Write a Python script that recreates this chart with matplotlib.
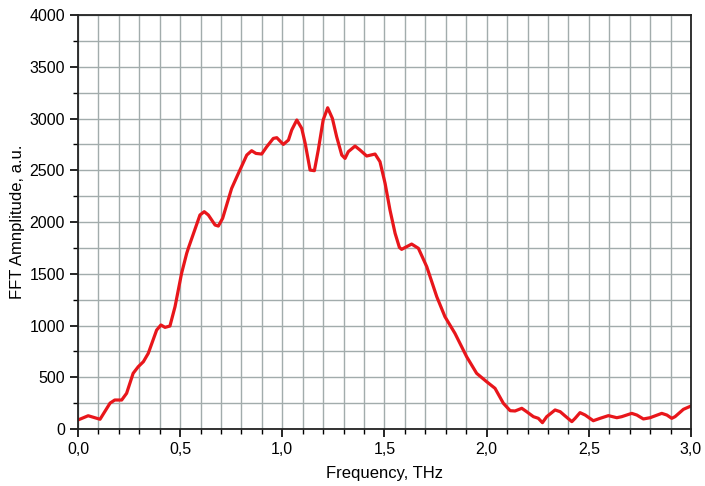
#plot of the FFT amplitude spectrum

import matplotlib
matplotlib.use("Agg")
import matplotlib.pyplot as plt
from matplotlib.ticker import MultipleLocator, FuncFormatter

#frequency (THz) and amplitude (a.u.)
freq = [0.0, 0.05, 0.108, 0.157, 0.18, 0.214, 0.238, 0.27, 0.295, 0.32, 0.344,
        0.385, 0.406, 0.426, 0.45, 0.475, 0.507, 0.532, 0.54, 0.597, 0.618, 0.638,
        0.671, 0.687, 0.708, 0.752, 0.785, 0.826, 0.85, 0.871, 0.899, 0.924, 0.956,
        0.973, 1.005, 1.03, 1.046, 1.071, 1.095, 1.112, 1.136, 1.157, 1.176, 1.2,
        1.222, 1.245, 1.266, 1.291, 1.307, 1.323, 1.356, 1.38, 1.413, 1.454, 1.478,
        1.503, 1.527, 1.552, 1.573, 1.584, 1.633, 1.666, 1.707, 1.756, 1.796, 1.845,
        1.902, 1.951, 2.0, 2.041, 2.082, 2.115, 2.139, 2.172, 2.196, 2.229, 2.253,
        2.273, 2.294, 2.335, 2.36, 2.384, 2.417, 2.433, 2.457, 2.482, 2.522, 2.555,
        2.596, 2.637, 2.661, 2.71, 2.735, 2.767, 2.8, 2.857, 2.882, 2.906, 2.922,
        2.963, 3.0]
amp = [87, 128, 94, 250, 280, 280, 345, 538, 602, 650, 731,
       956, 1005, 982, 995, 1182, 1504, 1697, 1746, 2068, 2100, 2068,
       1971, 1961, 2036, 2325, 2470, 2647, 2689, 2663, 2657, 2728, 2808,
       2815, 2750, 2792, 2889, 2986, 2905, 2760, 2502, 2496, 2696, 2986,
       3104, 3002, 2824, 2647, 2615, 2680, 2734, 2696, 2638, 2657, 2583,
       2374, 2116, 1891, 1755, 1736, 1787, 1746, 1568, 1278, 1085, 924,
       699, 538, 457, 393, 248, 177, 174, 200, 167, 119, 103,
       61, 119, 184, 167, 126, 71, 103, 158, 135, 80, 103,
       129, 109, 119, 151, 135, 97, 109, 151, 135, 103, 119,
       190, 222]

plt.rcParams["font.family"] = ["Liberation Sans", "DejaVu Sans"]

fig = plt.figure(figsize=(7.05, 4.86), dpi=100)
ax = fig.add_axes([0.1106, 0.1173, 0.8695, 0.8517])

ax.plot(freq, amp, color="#e8161b", linewidth=2.3, solid_joinstyle="round")

ax.set_xlim(0, 3.0)
ax.set_ylim(0, 4000)
ax.xaxis.set_major_locator(MultipleLocator(0.5))
ax.xaxis.set_minor_locator(MultipleLocator(0.1))
ax.yaxis.set_major_locator(MultipleLocator(500))
ax.yaxis.set_minor_locator(MultipleLocator(250))
ax.xaxis.set_major_formatter(FuncFormatter(lambda v, p: ("%.1f" % v).replace(".", ",")))

ax.grid(True, which="both", color="#a2acac", linewidth=1.0)
ax.set_axisbelow(True)
ax.tick_params(which="major", direction="out", length=6, width=1.2, labelsize=11.5, colors="black")
ax.tick_params(which="minor", direction="out", length=3.5, width=1.0)
for s in ax.spines.values():
    s.set_linewidth(1.3)
    s.set_color("#222222")

ax.set_xlabel("Frequency, THz", fontsize=12, labelpad=6)
ax.set_ylabel("FFT Amnplitude, a.u.", fontsize=12, labelpad=3)

fig.savefig("out.png", dpi=100)
